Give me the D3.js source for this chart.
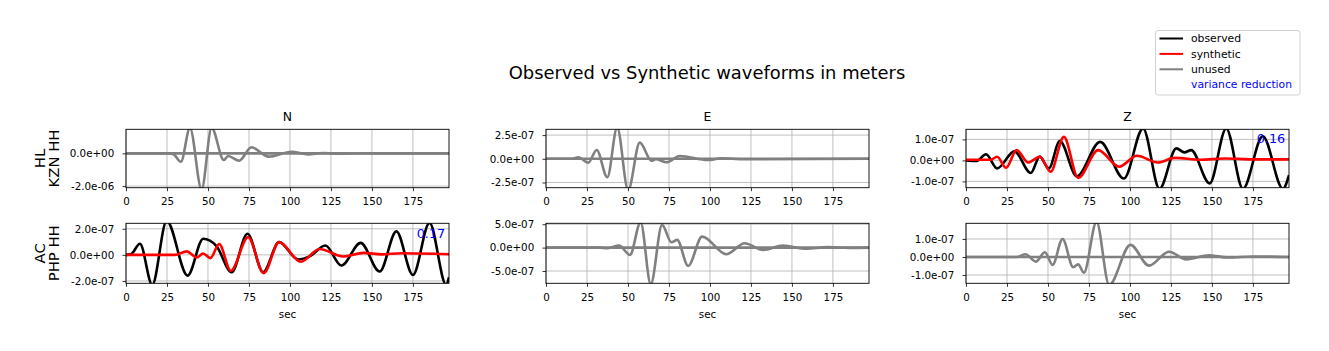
<!DOCTYPE html>
<html><head><meta charset="utf-8">
<script src="https://cdn.jsdelivr.net/npm/d3@7"></script>
<style>
body{margin:0;background:#fff;}
svg{display:block;font-family:"DejaVu Sans",sans-serif;}
</style></head><body>
<svg id="chart" width="1329" height="351"></svg>
<script>
// ---------------- DATA (time in sec, displacement in nanometres) ----------------
const columns = ["N", "E", "Z"];
const stations = [["HL", "KZN HH"], ["AC", "PHP HH"]];
const xTicks = [0, 25, 50, 75, 100, 125, 150, 175];
const timeRange = [0, 197];
const legendItems = ["observed", "synthetic", "unused", "variance reduction"];

// y-limits per panel (nm)
const ylimKznN = [-2100, 1470], ylimKznE = [-305, 311], ylimKznZ = [-130, 148];
const ylimPhpN = [-218, 242], ylimPhpE = [-763, 520], ylimPhpZ = [-146, 187];
// y ticks per panel (nm)
const yTicksKznN = [-2000, 0, 2000], yTicksKznE = [-250, 0, 250], yTicksKznZ = [-100, 0, 100];
const yTicksPhpN = [-200, 0, 200], yTicksPhpE = [-500, 0, 500], yTicksPhpZ = [-100, 0, 100];
// variance reduction labels
const vrKznZ = "0.16", vrPhpN = "0.17";

// HL KZN HH
const kznN_obs = [[0,0],[26,0],[29,-60],[33.5,-510],[39,1550],[46.1,-2200],[52.2,1550],[59.7,-410],[62.3,-165],[69,-450],[76.5,370],[87,-200],[100.9,100],[111,-70],[120,20],[130,-20],[145,10],[160,-10],[197,0]];
const kznN_syn = [[0,0],[197,0]];
const kznE_obs = [[0,0],[16,0],[19.7,16],[25.8,-41],[30.9,93],[37.4,-195],[43.4,330],[50.1,-330],[57.2,170],[64.4,-20],[67,-5],[73.5,-37],[81.6,30],[98.8,-13],[107,5],[120,-5],[197,0]];
const kznE_syn = [[0,0],[197,0]];
const kznZ_obs = [[0,0],[6.5,-3],[12.2,29],[19,-38],[29.5,43],[39.5,-60],[45,18],[50.5,-38],[57.2,92],[67.6,-76],[81.8,88],[96.3,-86],[108,152],[118,-135],[128.3,57],[133.2,38],[137.3,49],[148.6,-110],[158.7,152],[168.9,-135],[181,115],[193.3,-135],[197,-70]];
const kznZ_syn = [[0,3],[15,3],[19,17],[24.4,-35],[30.9,49],[37.9,-10],[45,17],[51.6,-54],[59.7,112],[68.4,-83],[80.6,49],[93.4,-30],[104.2,22],[117,-10],[127.3,12],[143,3],[157.7,9],[175,5],[197,5]];

// AC PHP HH
const phpN_obs = [[0,0],[3,5],[8.5,85],[16,-230],[24.8,260],[37.6,-159],[47.1,123],[55.2,67],[64.4,-133],[74.1,162],[83.6,-132],[93.4,98],[105,-35],[112,-12],[121.6,72],[131.4,-82],[143.1,92],[154.7,-128],[164.9,180],[175,-154],[185.1,245],[195.3,-230],[197,-172]];
const phpN_syn = [[0,0],[29.8,0],[37,27],[43.4,-20],[47,11],[51.5,-25],[56.8,83],[63.9,-122],[74.5,135],[84,-140],[93.4,98],[106.6,-53],[118.1,45],[132.4,-12],[145,15],[156,4],[168,12],[197,5]];
const phpE_obs = [[0,0],[33,0],[37,-13],[44.6,43],[51.2,-156],[57.7,540],[63.9,-780],[70.8,486],[76.5,115],[80,165],[86.7,-392],[95.2,236],[110,-141],[121.2,94],[132.4,-50],[144.5,43],[158.7,-24],[172,10],[185,-5],[197,0]];
const phpE_syn = [[0,0],[197,0]];
const phpZ_obs = [[0,0],[31,0],[36.3,15],[42.6,-26],[48.1,26],[52.8,-44],[58.9,100],[65.4,-57],[68.4,-41],[71.9,-87],[79.6,195],[87.3,-155],[100.3,67],[111.6,-48],[123.8,29],[134.4,-13],[148,10],[160,-3],[175,3],[197,0]];
const phpZ_syn = [[0,0],[197,0]];

// ---------------- PANEL TABLE ----------------
const panels = [
  {row:0, col:0, obs:kznN_obs, syn:kznN_syn, used:false, ylim:ylimKznN, yticks:yTicksKznN, vr:null},
  {row:0, col:1, obs:kznE_obs, syn:kznE_syn, used:false, ylim:ylimKznE, yticks:yTicksKznE, vr:null},
  {row:0, col:2, obs:kznZ_obs, syn:kznZ_syn, used:true,  ylim:ylimKznZ, yticks:yTicksKznZ, vr:vrKznZ},
  {row:1, col:0, obs:phpN_obs, syn:phpN_syn, used:true,  ylim:ylimPhpN, yticks:yTicksPhpN, vr:vrPhpN},
  {row:1, col:1, obs:phpE_obs, syn:phpE_syn, used:false, ylim:ylimPhpE, yticks:yTicksPhpE, vr:null},
  {row:1, col:2, obs:phpZ_obs, syn:phpZ_syn, used:false, ylim:ylimPhpZ, yticks:yTicksPhpZ, vr:null}
];

// ---------------- LAYOUT ----------------
const colLeft = [126, 546, 966], panelW = 323;
const rowTop = [129.3, 223.3], panelH = [58.4, 60];
const colors = {observed:"#000000", synthetic:"#ff0000", unused:"#808080", vr:"#0000ff"};
const lw = 2.6;

function sci(v) {
  const s = (v * 1e-9).toExponential(1);
  const [m, e] = s.split("e");
  return m + "e" + e[0] + e.slice(1).padStart(2, "0");
}

const svg = d3.select("#chart");
svg.append("rect").attr("width", 1329).attr("height", 351).attr("fill", "#fff");

svg.append("text").attr("x", 707).attr("y", 78.5).attr("text-anchor", "middle")
  .attr("font-size", 17.9).text("Observed vs Synthetic waveforms in meters");

const defs = svg.append("defs");

panels.forEach((p, i) => {
  const x0 = colLeft[p.col], y0 = rowTop[p.row], h = panelH[p.row];
  const x = d3.scaleLinear().domain(timeRange).range([x0, x0 + panelW]);
  const y = d3.scaleLinear().domain(p.ylim).range([y0 + h, y0]);
  const g = svg.append("g");

  defs.append("clipPath").attr("id", "clip" + i)
    .append("rect").attr("x", x0).attr("y", y0).attr("width", panelW).attr("height", h);

  // grid
  const yt = p.yticks.filter(v => v >= p.ylim[0] && v <= p.ylim[1]);
  g.selectAll(".gx").data(xTicks).join("line")
    .attr("x1", d => x(d)).attr("x2", d => x(d)).attr("y1", y0).attr("y2", y0 + h)
    .attr("stroke", "#b0b0b0").attr("stroke-width", 0.8);
  g.selectAll(".gy").data(yt).join("line")
    .attr("x1", x0).attr("x2", x0 + panelW).attr("y1", d => y(d)).attr("y2", d => y(d))
    .attr("stroke", "#b0b0b0").attr("stroke-width", 0.8);

  const line = d3.line().x(d => x(d[0])).y(d => y(d[1])).curve(d3.curveMonotoneX);
  const lg = g.append("g").attr("clip-path", `url(#clip${i})`);
  lg.append("path").datum(p.obs).attr("d", line).attr("fill", "none")
    .attr("stroke", p.used ? colors.observed : colors.unused).attr("stroke-width", lw);
  lg.append("path").datum(p.syn).attr("d", line).attr("fill", "none")
    .attr("stroke", p.used ? colors.synthetic : colors.unused).attr("stroke-width", lw);

  // spines
  g.append("rect").attr("x", x0).attr("y", y0).attr("width", panelW).attr("height", h)
    .attr("fill", "none").attr("stroke", "#000").attr("stroke-width", 0.9);

  // axes
  const ax = g.append("g").attr("transform", `translate(0,${y0 + h})`)
    .call(d3.axisBottom(x).tickValues(xTicks).tickSize(3.5).tickPadding(6.6));
  const ay = g.append("g").attr("transform", `translate(${x0},0)`)
    .call(d3.axisLeft(y).tickValues(yt).tickSize(3.5).tickPadding(8.3).tickFormat(sci));
  [ax, ay].forEach(a => {
    a.select(".domain").remove();
    a.selectAll("text").attr("font-size", 10.3).attr("fill", "#000")
      .attr("font-family", "DejaVu Sans, sans-serif");
    a.selectAll("line").attr("stroke", "#000").attr("stroke-width", 0.8);
  });

  if (p.vr) {
    g.append("text").attr("x", x0 + 0.9 * panelW).attr("y", y0 + 0.24 * h)
      .attr("font-size", 12.8).attr("fill", colors.vr).text(p.vr);
  }
  if (p.row === 0) {
    g.append("text").attr("x", x0 + panelW / 2).attr("y", y0 - 8.6)
      .attr("text-anchor", "middle").attr("font-size", 12.4).text(columns[p.col]);
  }
  if (p.row === 1) {
    g.append("text").attr("x", x0 + panelW / 2).attr("y", y0 + h + 34.2)
      .attr("text-anchor", "middle").attr("font-size", 10.3).text("sec");
  }
  if (p.col === 0) {
    const cy = y0 + h / 2;
    stations[p.row].forEach((s, k) => {
      g.append("text").attr("transform", `translate(${44.8 + k * 14.6},${cy}) rotate(-90)`)
        .attr("text-anchor", "middle").attr("font-size", 14.8).text(s);
    });
  }
});

// legend
const lgd = svg.append("g");
lgd.append("rect").attr("x", 1155.5).attr("y", 30.5).attr("width", 144.5).attr("height", 64.5)
  .attr("rx", 2.5).attr("fill", "#fff").attr("fill-opacity", 0.8)
  .attr("stroke", "#cccccc").attr("stroke-width", 0.9);
const legendColors = [colors.observed, colors.synthetic, colors.unused, null];
legendItems.forEach((t, k) => {
  const yy = 38.5 + k * 15.4;
  if (legendColors[k]) {
    lgd.append("line").attr("x1", 1159.5).attr("x2", 1183).attr("y1", yy).attr("y2", yy)
      .attr("stroke", legendColors[k]).attr("stroke-width", 2);
  }
  lgd.append("text").attr("x", 1191).attr("y", yy).attr("dy", "0.35em")
    .attr("font-size", 10.8).attr("fill", legendColors[k] ? "#000" : colors.vr).text(t);
});
</script>
</body></html>
